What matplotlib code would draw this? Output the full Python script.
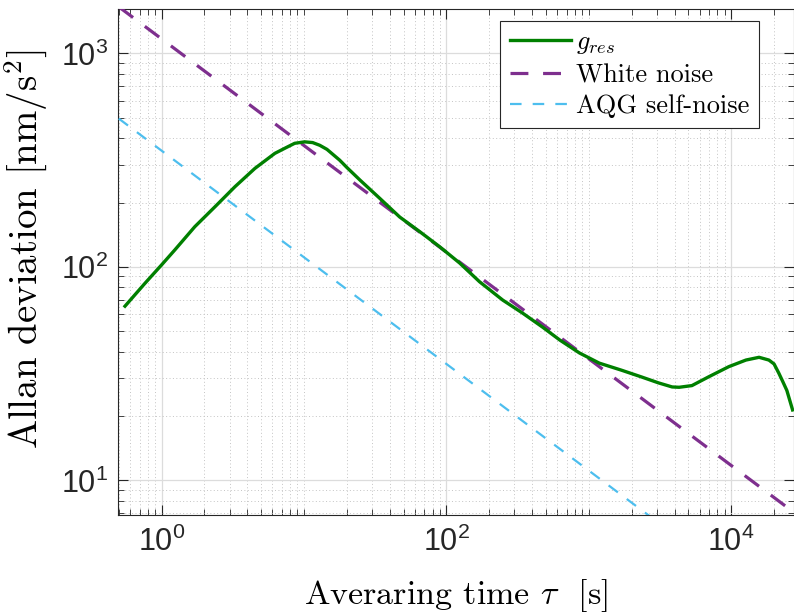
import numpy as np
import matplotlib
matplotlib.use('Agg')
import matplotlib.pyplot as plt
from matplotlib.ticker import FixedLocator, FuncFormatter, NullFormatter
from matplotlib.font_manager import FontProperties

# residual gravity Allan deviation, read as (tau, sigma) pairs
tau_res = [0.553, 0.764, 1.0, 1.24, 1.71, 2.37, 3.27, 4.52, 6.24, 7.5, 8.6,
           10.1, 11.5, 12.9, 14.5, 17.8, 20, 24.7, 34.1, 47, 65, 89.8, 124,
           171, 249, 344, 475, 626, 860, 1186, 1700, 2350, 3100, 3850, 4310,
           5300, 6980, 9640, 12700, 15700, 18400, 20000, 21600, 23000, 24600,
           27000]
adev_res = [65.3, 83.6, 102, 120, 154, 191, 237, 289, 340, 362, 379,
            385, 382, 371, 355, 316, 292, 255, 209, 171, 146, 124, 104,
            85, 69.7, 60.5, 52, 45.3, 39.4, 35.3, 32.7, 30.4, 28.5, 27.3, 27.2,
            27.7, 30.5, 34, 36.5, 37.6, 36.5, 35, 31.7, 29, 26.3,
            21.3]

# white noise and sensor self-noise levels at tau = 1 s (tau^-1/2 slopes)
white_level = 1170.0
aqg_level = 350.0
tau_model = [0.5, 30000]

green = '#008000'
purple = '#7E2F8E'
cyan = '#4DBEEE'

plt.rcParams['mathtext.fontset'] = 'custom'
plt.rcParams['mathtext.rm'] = 'Liberation Sans'
plt.rcParams['mathtext.it'] = 'Liberation Sans:italic'
plt.rcParams['mathtext.bf'] = 'Liberation Sans:bold'

fig = plt.figure(figsize=(7.94, 6.15), dpi=100)
ax = fig.add_axes([118 / 794, 1 - 515 / 615, 675.5 / 794, 506 / 615])

tm = np.array(tau_model)
ax.loglog(tau_res, adev_res, color=green, lw=2.4, label=r'$g_{res}$',
          solid_joinstyle='round', zorder=4)
ax.loglog(tm, white_level / np.sqrt(tm), color=purple, lw=2.3,
          dashes=(5.6, 4.6), label='White noise', zorder=3)
ax.loglog(tm, aqg_level / np.sqrt(tm), color=cyan, lw=1.6,
          dashes=(5.2, 5.0), label='AQG self-noise', zorder=3)

ax.set_xlim(0.494, 27400)
ax.set_ylim(6.85, 1616)

ax.xaxis.set_major_locator(FixedLocator([1, 1e2, 1e4]))
ax.yaxis.set_major_locator(FixedLocator([10, 1e2, 1e3]))
xminor = [m * 10.0 ** k for k in range(-1, 5) for m in range(1, 10)
          if m * 10.0 ** k not in (1, 1e2, 1e4)]
yminor = [m * 10.0 ** k for k in range(0, 4) for m in range(1, 10)
          if m * 10.0 ** k not in (10, 1e2, 1e3)]
ax.xaxis.set_minor_locator(FixedLocator(xminor))
ax.yaxis.set_minor_locator(FixedLocator(yminor))
ax.xaxis.set_minor_formatter(NullFormatter())
ax.yaxis.set_minor_formatter(NullFormatter())
exp_fmt = FuncFormatter(lambda v, p: r'$10^{%d}$' % round(np.log10(v)))
ax.xaxis.set_major_formatter(exp_fmt)
ax.yaxis.set_major_formatter(exp_fmt)

ax.tick_params(which='both', direction='in', top=True, right=True,
               color='#262626', labelsize=22, labelcolor='#262626')
ax.tick_params(which='major', length=7, width=0.8)
ax.tick_params(which='minor', length=4, width=0.6)
ax.tick_params(axis='x', pad=8)
ax.tick_params(axis='y', pad=7)
for s in ax.spines.values():
    s.set_color('#262626')
    s.set_linewidth(0.8)

ax.grid(which='major', color='#dcdcdc', lw=0.9, ls='-')
ax.grid(which='minor', color='#c4c4c4', lw=0.7, ls=(0, (1, 2.5)))
ax.set_axisbelow(True)

cm = dict(family='cmr10', math_fontfamily='cm')
ax.set_xlabel(r'Averaring time $\tau$  [s]', fontsize=24.5, labelpad=14, **cm)
ax.set_ylabel(r'Allan deviation [nm/s$^2$]', fontsize=28, **cm)
ax.yaxis.set_label_coords(-0.1, 0.526)

leg = ax.legend(loc='upper right', bbox_to_anchor=(759 / 794, 1 - 21 / 615),
                bbox_transform=fig.transFigure,
                prop=FontProperties(size=19, **cm), frameon=True, fancybox=False,
                framealpha=1, edgecolor='#262626', handlelength=2.3,
                borderpad=0.37, labelspacing=0.27, handletextpad=0.2,
                borderaxespad=0.0)
leg.get_frame().set_linewidth(0.8)

fig.savefig('out.png', dpi=100)
